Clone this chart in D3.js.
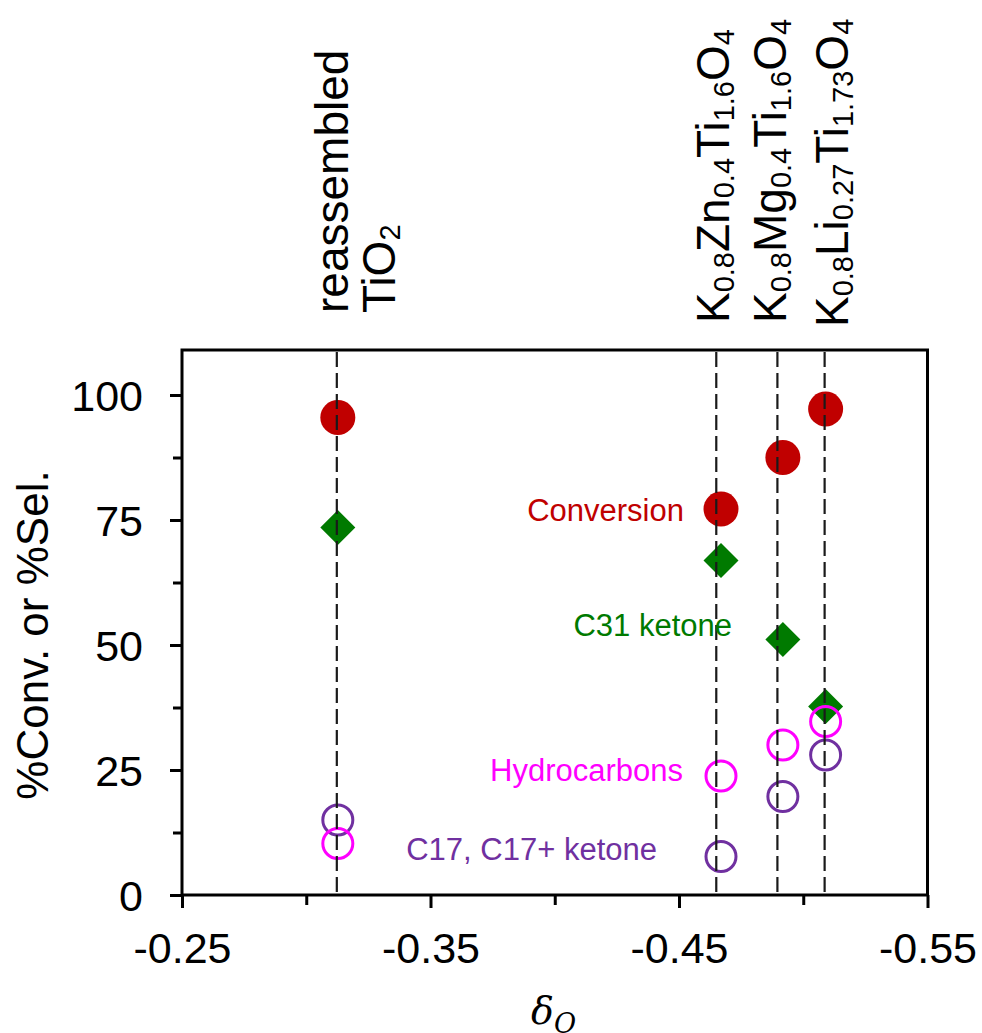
<!DOCTYPE html>
<html>
<head>
<meta charset="utf-8">
<script src="https://cdn.jsdelivr.net/npm/d3@7"></script>
<style>
  body { margin: 0; background: #fff; }
  svg text { font-family: Arial, "Liberation Sans", sans-serif; }
</style>
</head>
<body>
<div id="chart"></div>
<script>
// materials, one per dashed reference line
var materials = ["reassembled TiO2", "K0.8Zn0.4Ti1.6O4", "K0.8Mg0.4Ti1.6O4", "K0.8Li0.27Ti1.73O4"];
var refLineX = [-0.3123, -0.4650, -0.4896, -0.5086];   // dashed line positions (delta O)
var pointX = [-0.3127, -0.4669, -0.4918, -0.5090];     // marker positions (delta O)

// series values, %
var conversion   = [95.5, 77.2, 87.5, 97.2];
var c31Ketone    = [73.5, 66.9, 51.1, 37.7];
var hydrocarbons = [10.3, 23.8, 30.0, 34.7];
var c17Ketone    = [15.0, 7.7, 19.7, 28.0];

var xTicks = [-0.25, -0.35, -0.45, -0.55];
var xMinor = [-0.30, -0.40, -0.50];
var yTicks = [0, 25, 50, 75, 100];
var yMinor = [12.5, 37.5, 62.5, 87.5];

function drawChart() {
    var W = 982, H = 1033;
    var m = {left: 182, right: 927.5, top: 350, bottom: 895};

    var x = d3.scaleLinear().domain([-0.25, -0.55]).range([m.left, m.right]);
    var y = d3.scaleLinear().domain([0, 109]).range([m.bottom, m.top]);

    var svg = d3.select("#chart").append("svg")
        .attr("width", W)
        .attr("height", H);

    // frame
    svg.append("rect")
        .attr("x", m.left).attr("y", m.top)
        .attr("width", m.right - m.left).attr("height", m.bottom - m.top)
        .attr("fill", "none").attr("stroke", "#000").attr("stroke-width", 3);

    // axes
    function styleAxis(g) {
        g.select(".domain").remove();
        g.selectAll(".tick line").attr("stroke", "#000").attr("stroke-width", 3);
        g.selectAll(".tick text").attr("fill", "#000").style("font-size", "43px")
            .style("font-family", "Arial, 'Liberation Sans', sans-serif");
    }

    svg.append("g").attr("transform", "translate(" + m.left + ",0)")
        .call(d3.axisLeft(y).tickValues(yTicks).tickSize(12).tickPadding(27).tickFormat(d3.format("d")))
        .call(styleAxis)
        .selectAll(".tick text").attr("dy", "0.35em");
    svg.append("g").attr("transform", "translate(" + m.left + ",0)")
        .call(d3.axisLeft(y).tickValues(yMinor).tickSize(9).tickFormat(""))
        .call(styleAxis);

    svg.append("g").attr("transform", "translate(0," + m.bottom + ")")
        .call(d3.axisBottom(x).tickValues(xTicks).tickSize(13).tickPadding(24))
        .call(styleAxis)
        .selectAll(".tick text").text(function(d) { return d3.format(".2f")(d).replace("−", "-"); });
    svg.append("g").attr("transform", "translate(0," + m.bottom + ")")
        .call(d3.axisBottom(x).tickValues(xMinor).tickSize(10).tickFormat(""))
        .call(styleAxis);

    // axis titles
    svg.append("text")
        .attr("transform", "translate(48,635) rotate(-90)")
        .attr("text-anchor", "middle")
        .style("font-size", "44px")
        .text("%Conv. or %Sel.");

    var xt = svg.append("text")
        .attr("x", 531).attr("y", 1024)
        .style("font-family", "'DejaVu Serif', 'Liberation Serif', serif")
        .style("font-style", "italic")
        .style("font-size", "38px");
    xt.append("tspan").text("δ");
    xt.append("tspan").attr("dy", 9).style("font-size", "27px").text("O");

    // markers
    var idx = d3.range(materials.length);

    svg.append("g").selectAll("circle")
        .data(idx).enter().append("circle")
        .attr("cx", function(i) { return x(pointX[i]); })
        .attr("cy", function(i) { return y(conversion[i]); })
        .attr("r", 17.5)
        .attr("fill", "#C00000");

    svg.append("g").selectAll("path")
        .data(idx).enter().append("path")
        .attr("transform", function(i) { return "translate(" + x(pointX[i]) + "," + y(c31Ketone[i]) + ")"; })
        .attr("d", "M0,-17.5L17.5,0L0,17.5L-17.5,0Z")
        .attr("fill", "#007A00");

    svg.append("g").selectAll("circle")
        .data(idx).enter().append("circle")
        .attr("cx", function(i) { return x(pointX[i]); })
        .attr("cy", function(i) { return y(c17Ketone[i]); })
        .attr("r", 15)
        .attr("fill", "none").attr("stroke", "#7030A0").attr("stroke-width", 3);

    svg.append("g").selectAll("circle")
        .data(idx).enter().append("circle")
        .attr("cx", function(i) { return x(pointX[i]); })
        .attr("cy", function(i) { return y(hydrocarbons[i]); })
        .attr("r", 15)
        .attr("fill", "none").attr("stroke", "#FF00FF").attr("stroke-width", 3);

    // dashed reference lines (drawn over the markers)
    svg.append("g").selectAll("line")
        .data(refLineX).enter().append("line")
        .attr("x1", function(d) { return x(d); }).attr("x2", function(d) { return x(d); })
        .attr("y1", m.top + 2).attr("y2", m.bottom - 3)
        .attr("stroke", "#1a1a1a").attr("stroke-width", 2.2)
        .attr("stroke-dasharray", "15,6");

    // series labels
    var seriesLabels = [
        {text: "Conversion", color: "#C00000", x: 684, y: 521},
        {text: "C31 ketone", color: "#007A00", x: 732, y: 636},
        {text: "Hydrocarbons", color: "#FF00FF", x: 683, y: 781},
        {text: "C17, C17+ ketone", color: "#7030A0", x: 657, y: 860}
    ];
    svg.append("g").selectAll("text")
        .data(seriesLabels).enter().append("text")
        .attr("x", function(d) { return d.x; })
        .attr("y", function(d) { return d.y; })
        .attr("text-anchor", "end")
        .attr("fill", function(d) { return d.color; })
        .style("font-size", "31px")
        .text(function(d) { return d.text; });

    // material labels, rotated, with subscripts
    var labelParts = [
        [["reassembled", false]],
        [["TiO", false], ["2", true]],
        [["K", false], ["0.8", true], ["Zn", false], ["0.4", true], ["Ti", false], ["1.6", true], ["O", false], ["4", true]],
        [["K", false], ["0.8", true], ["Mg", false], ["0.4", true], ["Ti", false], ["1.6", true], ["O", false], ["4", true]],
        [["K", false], ["0.8", true], ["Li", false], ["0.27", true], ["Ti", false], ["1.73", true], ["O", false], ["4", true]]
    ];
    var labelPos = [[348, 313], [395, 313], [729, 323], [786, 323], [848, 327]];

    labelParts.forEach(function(parts, k) {
        var t = svg.append("text")
            .attr("transform", "translate(" + labelPos[k][0] + "," + labelPos[k][1] + ") rotate(-90)")
            .style("font-size", "46px");
        var shifted = false;
        parts.forEach(function(p) {
            var s = t.append("tspan").text(p[0]);
            if (p[1] && !shifted) { s.attr("dy", 5).style("font-size", "29px"); shifted = true; }
            else if (p[1]) { s.style("font-size", "29px"); }
            else if (shifted) { s.attr("dy", -5); shifted = false; }
        });
    });
}

drawChart();
</script>
</body>
</html>
